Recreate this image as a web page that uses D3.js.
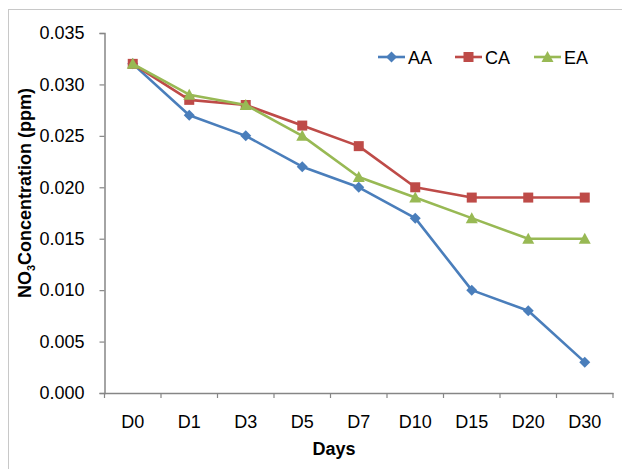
<!DOCTYPE html>
<html><head><meta charset="utf-8">
<script src="https://cdn.jsdelivr.net/npm/d3@7"></script>
<style>body{margin:0;background:#fff}svg{display:block}text{font-family:"Liberation Sans",Arial,sans-serif}</style>
</head><body>
<script>
const categories = ["D0","D1","D3","D5","D7","D10","D15","D20","D30"];
const seriesNames = ["AA","CA","EA"];
const valuesAA = [0.032,0.027,0.025,0.022,0.020,0.017,0.010,0.008,0.003];
const valuesCA = [0.032,0.0285,0.028,0.026,0.024,0.020,0.019,0.019,0.019];
const valuesEA = [0.032,0.029,0.028,0.025,0.021,0.019,0.017,0.015,0.015];
const yTicks = [0,0.005,0.010,0.015,0.020,0.025,0.030,0.035];

const W=622,H=469;
const svg=d3.select("body").append("svg").attr("width",W).attr("height",H);
svg.append("rect").attr("x",8.5).attr("y",9.5).attr("width",W+20).attr("height",H+20)
  .attr("fill","none").attr("stroke","#c8c8c8").attr("stroke-width",1);

const L=104.5,R=613,T=33,B=393;
const FS=18;
const x=d3.scaleBand().domain(categories).range([L,R]).padding(0);
const y=d3.scaleLinear().domain([0,0.035]).range([B,T]);
const axisColor="#868686";

const ya=svg.append("g").attr("transform",`translate(${L},0)`)
  .call(d3.axisLeft(y).tickValues(yTicks).tickFormat(d3.format(".3f")).tickSize(5).tickPadding(15));
ya.select(".domain").attr("stroke",axisColor).attr("stroke-width",1.5);
ya.selectAll(".tick line").attr("stroke",axisColor).attr("stroke-width",1.2);
ya.selectAll(".tick text").attr("font-size",FS).attr("fill","#000");

const xa=svg.append("g").attr("transform",`translate(0,${B})`)
  .call(d3.axisBottom(x).tickSize(0).tickPadding(22).tickSizeOuter(0));
xa.select(".domain").attr("stroke",axisColor).attr("stroke-width",1.5);
xa.selectAll(".tick text").attr("font-size",FS).attr("fill","#000");
const bounds=categories.map(c=>x(c)).concat([x(categories[categories.length-1])+x.bandwidth()]);
xa.selectAll(".btick").data(bounds).enter().append("line")
  .attr("x1",d=>d).attr("x2",d=>d).attr("y1",0).attr("y2",5)
  .attr("stroke",axisColor).attr("stroke-width",1.2);

svg.append("text").attr("x",334).attr("y",455).attr("text-anchor","middle")
  .attr("font-size",FS).attr("font-weight","bold").text("Days");
const yt=svg.append("text").attr("transform","translate(31,193) rotate(-90)")
  .attr("text-anchor","middle").attr("font-size",FS).attr("font-weight","bold");
yt.append("tspan").text("NO");
yt.append("tspan").attr("font-size",11).attr("dy",4).text("3");
yt.append("tspan").attr("dy",-4).text("Concentration (ppm)");

const colors={AA:"#4A7EBB",CA:"#BE4B48",EA:"#98B954"};
const data={AA:valuesAA,CA:valuesCA,EA:valuesEA};
const cx=c=>x(c)+x.bandwidth()/2;

function marker(g,name,px,py){
  if(name==="AA"){
    g.append("path").attr("d",`M${px},${py-5.5}L${px+5.5},${py}L${px},${py+5.5}L${px-5.5},${py}Z`).attr("fill",colors.AA);
  } else if(name==="CA"){
    g.append("rect").attr("x",px-5).attr("y",py-5).attr("width",10).attr("height",10).attr("fill",colors.CA);
  } else {
    g.append("path").attr("d",`M${px},${py-6}L${px+6},${py+5}L${px-6},${py+5}Z`).attr("fill",colors.EA);
  }
}

const line=d3.line().x((d,i)=>cx(categories[i])).y(d=>y(d));
seriesNames.forEach(n=>{
  const g=svg.append("g");
  g.append("path").datum(data[n]).attr("d",line).attr("fill","none")
    .attr("stroke",colors[n]).attr("stroke-width",2.6).attr("stroke-linejoin","round");
  data[n].forEach((v,i)=>marker(g,n,cx(categories[i]),y(v)));
});

const legX=[378,455,534];
seriesNames.forEach((n,i)=>{
  const g=svg.append("g");
  const lx=legX[i], ly=57;
  g.append("line").attr("x1",lx).attr("x2",lx+27).attr("y1",ly).attr("y2",ly)
    .attr("stroke",colors[n]).attr("stroke-width",2.6);
  marker(g,n,lx+13.5,ly);
  g.append("text").attr("x",lx+30).attr("y",ly+6.5).attr("font-size",FS).text(n);
});
</script>
</body></html>
